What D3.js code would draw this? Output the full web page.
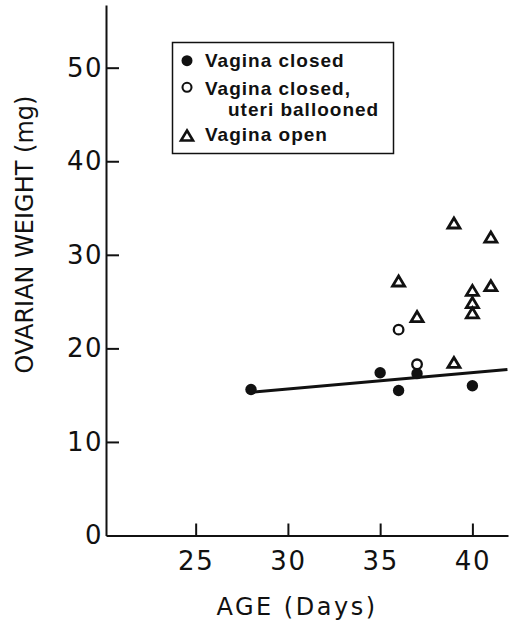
<!DOCTYPE html>
<html>
<head>
<meta charset="utf-8">
<script src="https://cdn.jsdelivr.net/npm/d3@7"></script>
<style>
  body { margin: 0; background: #fff; }
  svg { display: block; }
</style>
</head>
<body>
<div id="chart"></div>
<script>
// values
var closedAges = [28, 35, 36, 37, 40];
var closedWeights = [15.6, 17.4, 15.5, 17.3, 16.0];

var balloonAges = [36, 37];
var balloonWeights = [22.0, 18.3];

var openAges = [39, 41, 36, 41, 40, 40, 40, 37, 39];
var openWeights = [33.4, 31.9, 27.2, 26.7, 26.2, 24.9, 23.8, 23.4, 18.5];

var lineAges = [28, 41.9];
var lineWeights = [15.3, 17.75];

var xTicks = [25, 30, 35, 40];
var yTicks = [0, 10, 20, 30, 40, 50];

var legendLabels = [["Vagina closed"], ["Vagina closed,", "uteri ballooned"], ["Vagina open"]];

var width = 512;
var height = 628;
var ink = "#111";

var svg = d3
  .select("#chart")
  .append("svg")
  .attr("width", width)
  .attr("height", height);

var x = d3.scaleLinear().domain([20.14, 41.93]).range([106, 508]);
var y = d3.scaleLinear().domain([0, 56.7]).range([535.5, 5]);

// axes
var yAxis = svg
  .append("g")
  .attr("transform", "translate(" + x.range()[0] + ",0)")
  .call(d3.axisLeft(y).tickValues(yTicks).tickSizeInner(-13).tickSizeOuter(0).tickPadding(3).tickFormat(d3.format("d")));

var xAxis = svg
  .append("g")
  .attr("transform", "translate(0," + y.range()[0] + ")")
  .call(d3.axisBottom(x).tickValues(xTicks).tickSizeInner(-12).tickSizeOuter(0).tickPadding(16));

[xAxis, yAxis].forEach(function (g) {
  g.select(".domain").attr("stroke", ink).attr("stroke-width", 2);
  g.selectAll(".tick line").attr("stroke", ink).attr("stroke-width", 2);
  g.selectAll(".tick text")
    .attr("fill", ink)
    .style("font-family", "DejaVu Sans")
    .style("font-size", "26px")
    .style("letter-spacing", "1.5px");
});
// the zero tick sits on the x axis, hide its line
yAxis.selectAll(".tick line").filter(function (d) { return d === 0; }).remove();

// axis titles
svg
  .append("text")
  .attr("x", 297)
  .attr("y", 615)
  .attr("text-anchor", "middle")
  .attr("fill", ink)
  .style("font-family", "DejaVu Sans")
  .style("font-size", "24px")
  .style("letter-spacing", "2.5px")
  .text("AGE (Days)");

svg
  .append("text")
  .attr("transform", "translate(33,234.5) rotate(-90)")
  .attr("text-anchor", "middle")
  .attr("fill", ink)
  .style("font-family", "DejaVu Sans")
  .style("font-size", "24px")
  .text("OVARIAN WEIGHT (mg)");

// regression line
var line = d3
  .line()
  .x(function (d, i) { return x(lineAges[i]); })
  .y(function (d) { return y(d); });

svg
  .append("path")
  .attr("d", line(lineWeights))
  .attr("fill", "none")
  .attr("stroke", ink)
  .attr("stroke-width", 3);

function triangle(cx, cy, w, h) {
  return "M" + cx + "," + (cy - h / 2) +
    "L" + (cx + w / 2) + "," + (cy + h / 2) +
    "L" + (cx - w / 2) + "," + (cy + h / 2) + "Z";
}

// points
svg
  .selectAll(".closed")
  .data(closedWeights)
  .enter()
  .append("circle")
  .attr("class", "closed")
  .attr("cx", function (d, i) { return x(closedAges[i]); })
  .attr("cy", function (d) { return y(d); })
  .attr("r", 5.7)
  .attr("fill", ink);

svg
  .selectAll(".balloon")
  .data(balloonWeights)
  .enter()
  .append("circle")
  .attr("class", "balloon")
  .attr("cx", function (d, i) { return x(balloonAges[i]); })
  .attr("cy", function (d) { return y(d); })
  .attr("r", 4.8)
  .attr("fill", "#fff")
  .attr("stroke", ink)
  .attr("stroke-width", 2.3);

svg
  .selectAll(".open")
  .data(openWeights)
  .enter()
  .append("path")
  .attr("class", "open")
  .attr("d", function (d, i) { return triangle(x(openAges[i]), y(d), 12, 10); })
  .attr("fill", "#fff")
  .attr("stroke", ink)
  .attr("stroke-width", 2.8)
  .attr("stroke-linejoin", "miter");

// legend
var legend = svg.append("g");
legend
  .append("rect")
  .attr("x", 172.5)
  .attr("y", 42.5)
  .attr("width", 221)
  .attr("height", 111)
  .attr("fill", "#fff")
  .attr("stroke", ink)
  .attr("stroke-width", 1.5);

var rowBase = [[67.3], [95, 116], [141]];
var markY = [60.7, 87.3, 135.5];

legend.append("circle").attr("cx", 187).attr("cy", markY[0]).attr("r", 5.5).attr("fill", ink);
legend.append("circle").attr("cx", 187).attr("cy", markY[1]).attr("r", 4.5)
  .attr("fill", "#fff").attr("stroke", ink).attr("stroke-width", 2.1);
legend.append("path").attr("d", triangle(187, markY[2], 12, 10))
  .attr("fill", "#fff").attr("stroke", ink).attr("stroke-width", 2.6);

legendLabels.forEach(function (lines, i) {
  lines.forEach(function (t, j) {
    legend
      .append("text")
      .attr("x", j === 0 ? 205 : 228)
      .attr("y", rowBase[i][j])
      .attr("fill", ink)
      .style("font-family", "Liberation Sans")
      .style("font-weight", "bold")
      .style("font-size", "19px")
      .style("letter-spacing", "1px")
      .text(t);
  });
});
</script>
</body>
</html>
